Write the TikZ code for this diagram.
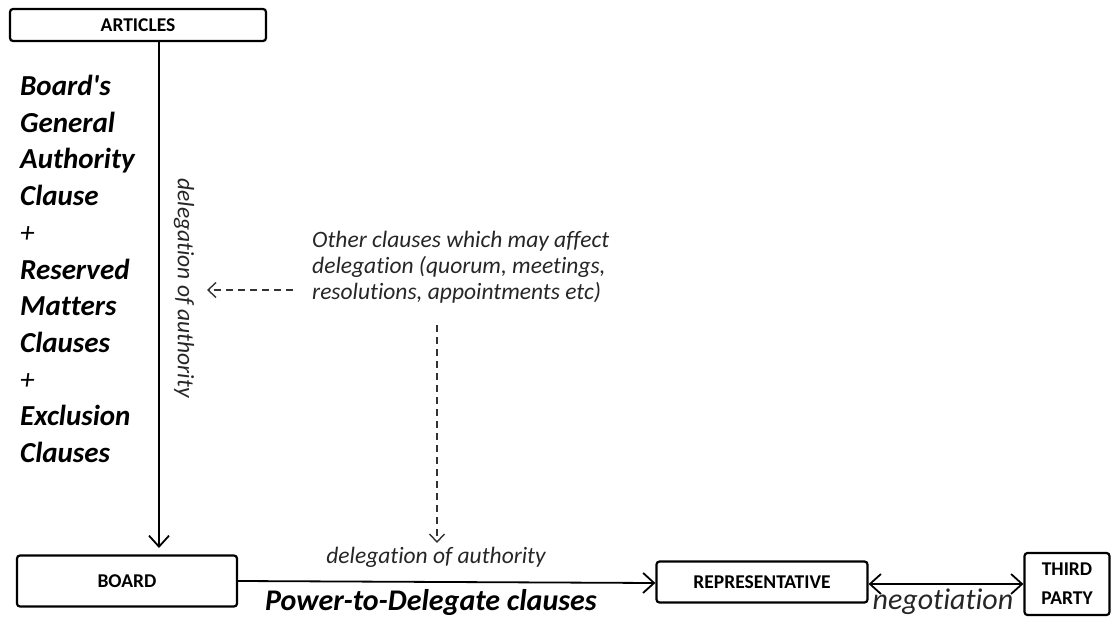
\documentclass[tikz,border=0pt]{standalone}
\usepackage{fontspec}
\setmainfont{Carlito}[Ligatures=NoCommon]
\usetikzlibrary{arrows.meta}
\tikzset{
  box/.style={draw, line width=2.2pt, rounded corners=3pt, inner sep=0pt, font=\fontsize{19.5}{22}\selectfont\bfseries},
  conn/.style={line width=1.8pt, -{Straight Barb[length=11pt,width=20pt]}},
  biconn/.style={line width=1.8pt, {Straight Barb[length=11pt,width=20pt]}-{Straight Barb[length=11pt,width=20pt]}},
  dconn/.style={line width=1.4pt, draw=black!80, dash pattern=on 7pt off 5pt, -{Straight Barb[length=8pt,width=15pt]}},
  lbl/.style={font=\fontsize{23.5}{26}\selectfont\itshape, inner sep=0pt, text=black!85},
  big/.style={font=\fontsize{29}{36.7}\selectfont\bfseries\itshape, inner sep=0pt, align=left}
}
\begin{document}
\begin{tikzpicture}[x=1pt,y=-1pt]
\useasboundingbox (0,0) rectangle (1111,618);
\node[box, minimum width=256pt, minimum height=32pt] (art) at (138,25) {ARTICLES};
\node[box, minimum width=220pt, minimum height=51pt] (board) at (127,581) {BOARD};
\node[box, minimum width=211pt, minimum height=41pt] (rep) at (762,582) {REPRESENTATIVE};
\node[box, minimum width=85pt, minimum height=62pt, align=center, font=\fontsize{19.5}{29}\selectfont\bfseries] (tp) at (1067,584) {THIRD\\PARTY};
\coordinate (boardtop) at (159,548);
\draw[conn] (art.south -| boardtop) -- (boardtop);
\draw[conn] (board.east |- 0,581) -- (rep.west |- 0,583);
\draw[biconn] (rep.east |- 0,584) -- (tp.west |- 0,584);
\node[big, anchor=north west] (left) at (20,75) {Board\textquotesingle s\\General\\Authority\\Clause\\\normalfont\itshape +\\Reserved\\Matters\\Clauses\\\normalfont\itshape +\\Exclusion\\Clauses};
\node[lbl, rotate=-90] (rot) at (184,288) {delegation of authority};
\node[lbl, align=left, anchor=north west] (other) at (312,231) {Other clauses which may affect\\delegation (quorum, meetings,\\resolutions, appointments etc)};
\coordinate (dh1) at (293,290);
\coordinate (dh2) at (207,290);
\draw[dconn] (dh1) -- (dh2);
\coordinate (dv1) at (437,325);
\coordinate (dv2) at (437,543);
\draw[dconn] (dv1) -- (dv2);
\node[lbl] (dlg) at (436,557) {delegation of authority};
\node[font=\fontsize{30}{32}\selectfont\bfseries\itshape, inner sep=0pt] (ptd) at (431,602) {Power-to-Delegate clauses};
\node[font=\fontsize{30}{32}\selectfont\itshape, inner sep=0pt, text=black!85] (neg) at (943,602) {negotiation};
\end{tikzpicture}
\end{document}
